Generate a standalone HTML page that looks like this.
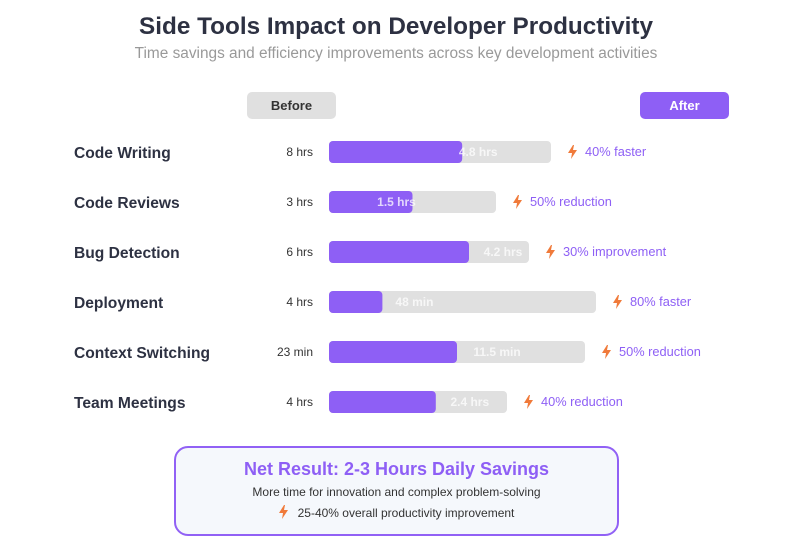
<!DOCTYPE html>
<html><head><meta charset="utf-8"><style>
body{margin:0;width:811px;height:556px;background:#fff;font-family:"Liberation Sans",sans-serif;overflow:hidden;position:relative}
.t{position:absolute;white-space:nowrap}
</style></head><body>
<div class="t" style="left:0;width:792px;text-align:center;top:13px;font-size:24.3px;font-weight:bold;color:#2d3142">Side Tools Impact on Developer Productivity</div>
<div class="t" style="left:0;width:792px;text-align:center;top:45px;font-size:15.4px;color:#999">Time savings and efficiency improvements across key development activities</div>
<div class="t" style="left:247px;top:92px;width:89px;height:27px;line-height:27px;text-align:center;background:#e0e0e0;border-radius:5px;font-size:13px;font-weight:bold;color:#333">Before</div>
<div class="t" style="left:640px;top:92px;width:89px;height:27px;line-height:27px;text-align:center;background:#8e5ff5;border-radius:5px;font-size:13px;font-weight:bold;color:#fff">After</div>
<svg id="chart" width="811" height="440" style="position:absolute;left:0;top:0"></svg>
<div class="t" style="left:174px;top:446px;width:441px;height:86px;border:2px solid #9161f5;border-radius:14px;background:#f5f8fc">
<div style="text-align:center;margin-top:11px;font-size:18px;font-weight:bold;color:#8e5ff5">Net Result: 2-3 Hours Daily Savings</div>
<div style="text-align:center;margin-top:5px;font-size:12px;color:#333">More time for innovation and complex problem-solving</div>
<div style="text-align:center;margin-top:6px;font-size:12px;color:#333"><svg width="9" height="14" viewBox="0 0 9 14" style="vertical-align:-2px"><polygon points="5,0 0,8 4,8 3,14 9,5 5,5 6,0" fill="#f07a3a"/></svg>&nbsp;&nbsp; 25-40% overall productivity improvement</div>
</div>
<script>
const categories=["Code Writing","Code Reviews","Bug Detection","Deployment","Context Switching","Team Meetings"];
const beforeLabels=["8 hrs","3 hrs","6 hrs","4 hrs","23 min","4 hrs"];
const afterLabels=["4.8 hrs","1.5 hrs","4.2 hrs","48 min","11.5 min","2.4 hrs"];
const afterRatio=[0.6,0.5,0.7,0.2,0.5,0.6];
const improvements=["40% faster","50% reduction","30% improvement","80% faster","50% reduction","40% reduction"];
const trackWidths=[222,167,200,267,256,178];
const labelOffsets=[16,-16,34,32,40,34];
const svg=document.getElementById('chart');const NS='http://www.w3.org/2000/svg';
function mk(tag,attrs,txt){const e=document.createElementNS(NS,tag);for(const k in attrs)e.setAttribute(k,attrs[k]);if(txt!=null)e.textContent=txt;svg.appendChild(e);return e;}
const x0=329;const yC=i=>152+i*50;const xS=(r,w)=>r*w;
categories.forEach((c,i)=>{const y=yC(i);const w=trackWidths[i];const pw=xS(afterRatio[i],w);
let e=mk('text',{x:74,y:y+6,'font-size':15.6,'font-weight':'bold',fill:'#2d3142'},c);


e=mk('text',{x:313,y:y+4,'font-size':12,fill:'#333','text-anchor':'end'},beforeLabels[i]);


e=mk('rect',{x:x0,y:y-11,width:w,height:22,rx:4,fill:'#e0e0e0'});


e=mk('rect',{x:x0,y:y-11,width:pw,height:22,rx:4,fill:'#8e5ff5'});


e=mk('text',{x:x0+pw+labelOffsets[i],y:y+4,'font-size':12,'font-weight':'bold',fill:'#fff','fill-opacity':0.75,'text-anchor':'middle'},afterLabels[i]);


e=mk('polygon',{points:'5,0 0,8 4,8 3,14 9,5 5,5 6,0',fill:'#f07a3a',transform:`translate(${x0+w+17},${y-7})`});


e=mk('text',{x:x0+w+34,y:y+4,'font-size':12.8,fill:'#8e5ff5'},improvements[i]);


});
</script>
</body></html>
